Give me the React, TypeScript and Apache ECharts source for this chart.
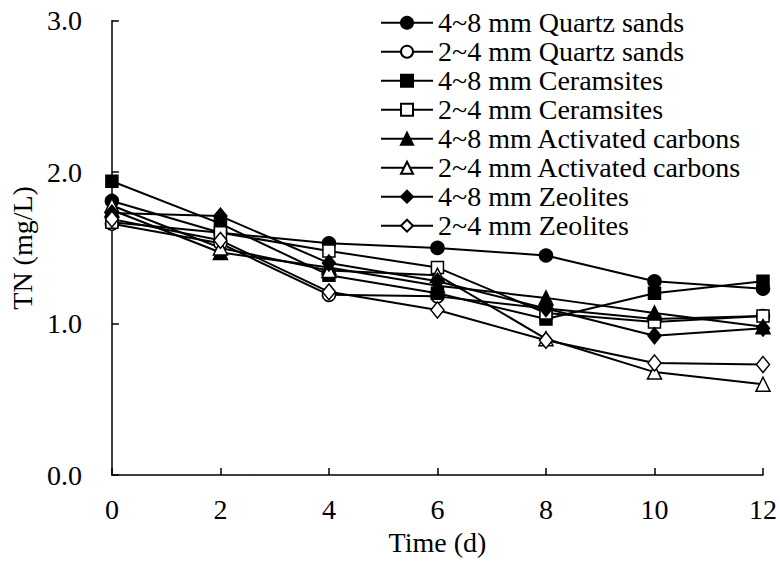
import React, { useEffect, useRef } from "react";
import * as echarts from "echarts";

const days = [0, 2, 4, 6, 8, 10, 12];
const quartz48 = [1.81, 1.6, 1.53, 1.5, 1.45, 1.28, 1.23];
const quartz24 = [1.66, 1.53, 1.19, 1.18, 1.1, 1.03, 1.05];
const ceram48 = [1.94, 1.66, 1.32, 1.2, 1.03, 1.2, 1.28];
const ceram24 = [1.67, 1.6, 1.48, 1.37, 1.07, 1.01, 1.05];
const ac48 = [1.75, 1.47, 1.37, 1.25, 1.17, 1.07, 0.98];
const ac24 = [1.78, 1.5, 1.35, 1.32, 0.9, 0.68, 0.6];
const zeo48 = [1.73, 1.71, 1.4, 1.28, 1.1, 0.92, 0.97];
const zeo24 = [1.69, 1.55, 1.21, 1.09, 0.89, 0.74, 0.73];

const seriesDefs = [
  { name: "4~8 mm Quartz sands", data: quartz48, symbol: "circle", filled: true },
  { name: "2~4 mm Quartz sands", data: quartz24, symbol: "circle", filled: false },
  { name: "4~8 mm Ceramsites", data: ceram48, symbol: "rect", filled: true },
  { name: "2~4 mm Ceramsites", data: ceram24, symbol: "rect", filled: false },
  { name: "4~8 mm Activated carbons", data: ac48, symbol: "triangle", filled: true },
  { name: "2~4 mm Activated carbons", data: ac24, symbol: "triangle", filled: false },
  { name: "4~8 mm Zeolites", data: zeo48, symbol: "diamond", filled: true },
  { name: "2~4 mm Zeolites", data: zeo24, symbol: "diamond", filled: false },
];

const FONT = '"Liberation Serif", "Times New Roman", serif';

function sizeFor(symbol: string) {
  if (symbol === "diamond") return [13, 16];
  if (symbol === "triangle") return 14;
  if (symbol === "circle") return 13;
  return 12;
}

export default function App() {
  const ref = useRef<HTMLDivElement>(null);
  useEffect(() => {
    document.body.style.margin = "0";
    document.documentElement.style.overflow = "hidden";
    document.body.style.overflow = "hidden";
    if (!ref.current) return;
    const chart = echarts.init(ref.current, null, { renderer: "svg", width: 780, height: 561 });
    chart.setOption({
      animation: false,
      backgroundColor: "#fff",
      textStyle: { fontFamily: FONT, color: "#000" },
      grid: { left: 106.7, right: 16.7, top: 20.7, bottom: 71 },
      legend: {
        orient: "vertical",
        left: 380,
        top: 8.2,
        padding: 0,
        itemWidth: 52,
        itemHeight: 15,
        itemGap: 0,
        textStyle: { fontFamily: FONT, fontSize: 28, color: "#000", lineHeight: 29 },
        data: seriesDefs.map((s) => s.name),
      },
      xAxis: {
        type: "value",
        min: 0,
        max: 12,
        interval: 2,
        name: "Time (d)",
        nameLocation: "middle",
        nameGap: 42,
        nameTextStyle: { fontFamily: FONT, fontSize: 28, color: "#000" },
        axisLine: { lineStyle: { color: "#000", width: 1.5 } },
        axisTick: { inside: true, length: 7, lineStyle: { color: "#000", width: 1.5 } },
        axisLabel: { fontFamily: FONT, fontSize: 28, color: "#000", margin: 20 },
        splitLine: { show: false },
      },
      yAxis: {
        type: "value",
        min: 0,
        max: 3,
        interval: 1,
        name: "TN (mg/L)",
        nameLocation: "middle",
        nameGap: 72,
        nameTextStyle: { fontFamily: FONT, fontSize: 28, color: "#000" },
        axisLine: { lineStyle: { color: "#000", width: 1.5 } },
        axisTick: { inside: true, length: 7, lineStyle: { color: "#000", width: 1.5 } },
        axisLabel: {
          fontFamily: FONT,
          fontSize: 28,
          color: "#000",
          margin: 30,
          formatter: (v: number) => v.toFixed(1),
        },
        splitLine: { show: false },
      },
      series: seriesDefs.map((s) => ({
        name: s.name,
        type: "line",
        data: days.map((d, i) => [d, s.data[i]]),
        symbol: s.symbol,
        symbolSize: sizeFor(s.symbol),
        showAllSymbol: true,
        clip: false,
        lineStyle: { color: "#000", width: 2 },
        itemStyle: {
          color: s.filled ? "#000" : "#fff",
          borderColor: "#000",
          borderWidth: 1.5,
          opacity: 1,
        },
        emphasis: { disabled: true },
      })),
    });
    return () => chart.dispose();
  }, []);
  return <div ref={ref} style={{ width: 780, height: 561 }} />;
}
